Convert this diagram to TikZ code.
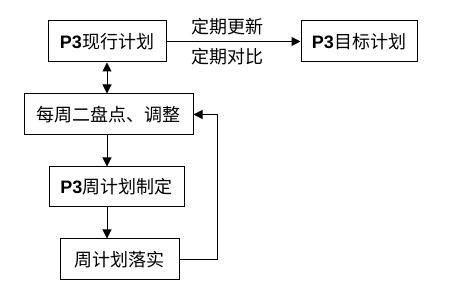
\documentclass[tikz,border=0pt]{standalone}
\usepackage{fontspec}
\setmainfont{Liberation Sans}
\newfontfamily\cjk{Noto Sans CJK SC}
\usetikzlibrary{arrows.meta,calc}
\tikzset{
  flowbox/.style={draw=black, line width=1pt, inner sep=0pt, font=\fontsize{18}{18}\selectfont, text=black},
  conn/.style={draw=black, line width=1pt, -{Triangle[length=9pt,width=9pt]}},
  lbl/.style={font=\cjk\fontsize{18}{18}\selectfont, text=black, inner sep=0pt}
}
\newcommand{\pthree}{\textbf{P3}}
\begin{document}
\begin{tikzpicture}[x=1pt,y=-1pt]
\useasboundingbox (0,0) rectangle (456,291);
\node[flowbox, minimum width=118pt, minimum height=41pt] (b1) at (107,41.5) {\pthree\cjk 现行计划};
\node[flowbox, minimum width=116pt, minimum height=41pt] (b2) at (359,41.5) {\pthree\cjk 目标计划};
\node[flowbox, minimum width=169pt, minimum height=41pt] (b3) at (108.5,114.5) {\cjk 每周二盘点、调整};
\node[flowbox, minimum width=135pt, minimum height=40pt] (b4) at (116.5,187) {\pthree\cjk 周计划制定};
\node[flowbox, minimum width=119pt, minimum height=41pt] (b5) at (119.5,259.5) {\cjk 周计划落实};
\node[lbl] (l1) at (227,27) {定期更新};
\node[lbl] (l2) at (227,57) {定期对比};
\draw[conn] (b1.east) -- (b2.west);
\draw[conn, {Triangle[length=9pt,width=9pt]}-{Triangle[length=9pt,width=9pt]}] (b1.south) -- (b3.north -| b1.south);
\draw[conn] (b3.south -| b1.south) -- (b4.north -| b1.south);
\draw[conn] (b4.south -| b1.south) -- (b5.north -| b1.south);
\coordinate (fb) at ($(b5.east)+(38,0)$);
\draw[conn] (b5.east) -- (fb) |- (b3.east);
\end{tikzpicture}
\end{document}
